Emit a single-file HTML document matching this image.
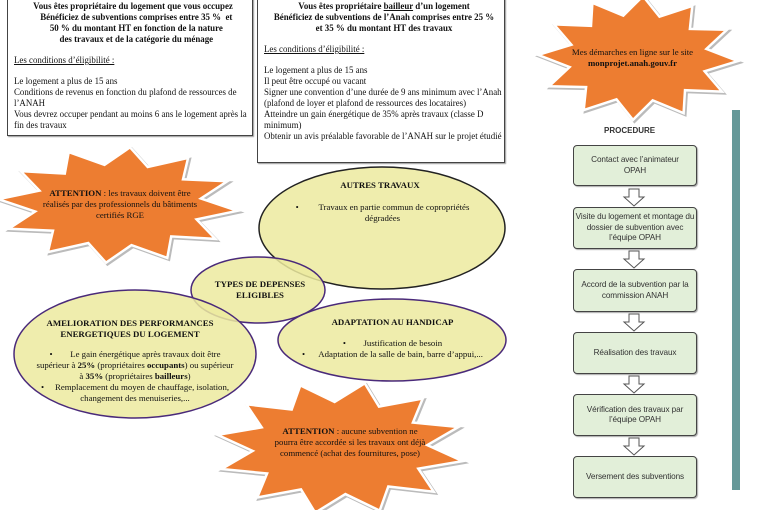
<!DOCTYPE html>
<html><head><meta charset="utf-8">
<style>
body{margin:0;width:765px;height:510px;overflow:hidden;background:#fff;position:relative;font-family:"Liberation Serif",serif;color:#111}
.note{position:absolute;border:1px solid #444;background:#fff;font-size:8.9px;line-height:11px;box-shadow:1px 1px 1px #999}
.c{text-align:center;font-weight:bold}
.u{text-decoration:underline}
.t{position:absolute;text-align:center;font-size:8.8px;line-height:11px}
.box{position:absolute;left:573px;width:124px;border:1.2px solid #444;border-radius:4px;background:#e2efd9;font-family:"Liberation Sans",sans-serif;font-size:8.2px;line-height:10.5px;color:#333;display:flex;align-items:center;justify-content:center;text-align:center;box-shadow:1px 1px 1px #aaa;padding:0 1px;box-sizing:border-box;letter-spacing:-0.1px}
svg{position:absolute;left:0;top:0}
</style></head><body>
<svg width="765" height="510" id="s">
<g id="stars"></g>
<ellipse cx="382" cy="228" rx="123" ry="61" fill="#ecea9f" fill-opacity="0.85" stroke="#222" stroke-width="1.5"/>
<ellipse cx="258" cy="290" rx="67" ry="33" fill="#ecea9f" fill-opacity="0.85" stroke="#4a2a7a" stroke-width="1.5"/>
<ellipse cx="135" cy="354" rx="121" ry="64" fill="#ecea9f" fill-opacity="0.85" stroke="#4a2a7a" stroke-width="1.5"/>
<ellipse cx="392" cy="340" rx="114" ry="41" fill="#ecea9f" fill-opacity="0.85" stroke="#4a2a7a" stroke-width="1.5"/>
<rect x="732" y="110" width="8" height="380" fill="#669999"/>
<g fill="#fff" stroke="#555" stroke-width="1">
<path d="M629,189h10v8h5l-10,9l-10,-9h5z"/>
<path d="M629,251h10v8h5l-10,9l-10,-9h5z"/>
<path d="M629,314h10v8h5l-10,9l-10,-9h5z"/>
<path d="M629,376h10v8h5l-10,9l-10,-9h5z"/>
<path d="M629,438h10v8h5l-10,9l-10,-9h5z"/>
</g>
</svg>
<div class="note" style="left:7px;top:-6px;width:238px;height:134px;padding:6px 0 0 6px">
<div class="c">Vous êtes propriétaire du logement que vous occupez<br>&nbsp;&nbsp;&nbsp;Bénéficiez de subventions comprises entre 35 % &nbsp;et<br>&nbsp;&nbsp;&nbsp;50 % du montant HT en fonction de la nature<br>&nbsp;&nbsp;&nbsp;des travaux et de la catégorie du ménage</div>
<div class="u" style="margin-top:10px">Les conditions d’éligibilité :</div>
<div style="margin-top:10px">Le logement a plus de 15 ans<br>Conditions de revenus en fonction du plafond de ressources de l’ANAH<br>Vous devrez occuper pendant au moins 6 ans le logement après la fin des travaux</div>
</div>
<div class="note" style="left:257px;top:-6px;width:240px;height:161px;padding:6px 0 0 6px">
<div class="c">Vous êtes propriétaire <span class="u">bailleur</span> d’un logement<br>Bénéficiez de subventions de l’Anah comprises entre 25 %<br>et 35 % du montant HT des travaux</div>
<div class="u" style="margin-top:10px">Les conditions d’éligibilité :</div>
<div style="margin-top:10px">Le logement a plus de 15 ans<br>Il peut être occupé ou vacant<br>Signer une convention d’une durée de 9 ans minimum avec l’Anah (plafond de loyer et plafond de ressources des locataires)<br>Atteindre un gain énergétique de 35% après travaux (classe D minimum)<br>Obtenir un avis préalable favorable de l’ANAH sur le projet étudié</div>
</div>
<div class="t" style="left:40px;top:188px;width:160px"><b>ATTENTION</b> : les travaux doivent être réalisés par des professionnels du bâtiments certifiés RGE</div>
<div class="t" style="left:570px;top:47px;width:125px">Mes démarches en ligne sur le site <b>monprojet.anah.gouv.fr</b></div>
<div class="t" style="left:270px;top:426px;width:160px"><b>ATTENTION</b> : aucune subvention ne pourra être accordée si les travaux ont déjà commencé (achat des fournitures, pose)</div>
<div class="t" style="left:290px;top:180px;width:180px;font-weight:bold">AUTRES TRAVAUX</div>
<div class="t" style="left:285px;top:202px;width:195px">•&nbsp;&nbsp;&nbsp;&nbsp;&nbsp;&nbsp;&nbsp;&nbsp;&nbsp;Travaux en partie commun de copropriétés dégradées</div>
<div class="t" style="left:195px;top:279px;width:130px;font-weight:bold">TYPES DE DEPENSES ELIGIBLES</div>
<div class="t" style="left:25px;top:318px;width:210px;font-weight:bold">AMELIORATION DES PERFORMANCES ENERGETIQUES DU LOGEMENT</div>
<div class="t" style="left:35px;top:349px;width:200px">•&nbsp;&nbsp;&nbsp;&nbsp;&nbsp;&nbsp;&nbsp;&nbsp;Le gain énergétique après travaux doit être supérieur à <b>25%</b> (propriétaires <b>occupants</b>) ou supérieur à <b>35%</b> (propriétaires <b>bailleurs</b>)<br>•&nbsp;&nbsp;&nbsp;&nbsp;&nbsp;Remplacement du moyen de chauffage, isolation, changement des menuiseries,...</div>
<div class="t" style="left:295px;top:317px;width:195px;font-weight:bold">ADAPTATION AU HANDICAP</div>
<div class="t" style="left:280px;top:338px;width:225px">•&nbsp;&nbsp;&nbsp;&nbsp;&nbsp;&nbsp;&nbsp;&nbsp;Justification de besoin<br>•&nbsp;&nbsp;&nbsp;&nbsp;&nbsp;&nbsp;Adaptation de la salle de bain, barre d’appui,...</div>
<div style="position:absolute;left:604px;top:126px;font-family:'Liberation Sans',sans-serif;font-weight:bold;font-size:8px;color:#333">PROCEDURE</div>
<div class="box" style="top:145px;height:41px">Contact avec l’animateur<br>OPAH</div>
<div class="box" style="top:207px;height:42px">Visite du logement et montage du dossier de subvention avec l’équipe OPAH</div>
<div class="box" style="top:269px;height:43px">Accord de la subvention par la commission ANAH</div>
<div class="box" style="top:332px;height:42px">Réalisation des travaux</div>
<div class="box" style="top:394px;height:42px">Vérification des travaux par l’équipe OPAH</div>
<div class="box" style="top:456px;height:42px">Versement des subventions</div>
<script>
function star(cx,cy,rx,ry,n,k,rot){var p=[];for(var i=0;i<2*n;i++){var a=rot+Math.PI*i/n;var r=i%2?k:1;p.push((cx+Math.cos(a)*rx*r).toFixed(1)+","+(cy+Math.sin(a)*ry*r).toFixed(1));}return p.join(" ");}
var g=document.getElementById("stars");
[[118,205,120,58,12,0.7,0.1],[340,448,125,66,12,0.7,0.2],[638,58,100,62,12,0.7,0.05]].forEach(function(s){
 var sh=document.createElementNS("http://www.w3.org/2000/svg","polygon");
 sh.setAttribute("points",star(s[0]+1.5,s[1]+1.5,s[2],s[3],s[4],s[5],s[6]));sh.setAttribute("fill","#c8c8c8");sh.setAttribute("stroke","#bbb");sh.setAttribute("stroke-width","3");g.appendChild(sh);
 var p=document.createElementNS("http://www.w3.org/2000/svg","polygon");
 p.setAttribute("points",star(s[0],s[1],s[2],s[3],s[4],s[5],s[6]));p.setAttribute("fill","#ed7d31");p.setAttribute("stroke","#fff");p.setAttribute("stroke-width","2.5");g.appendChild(p);
});
</script>
</body></html>
